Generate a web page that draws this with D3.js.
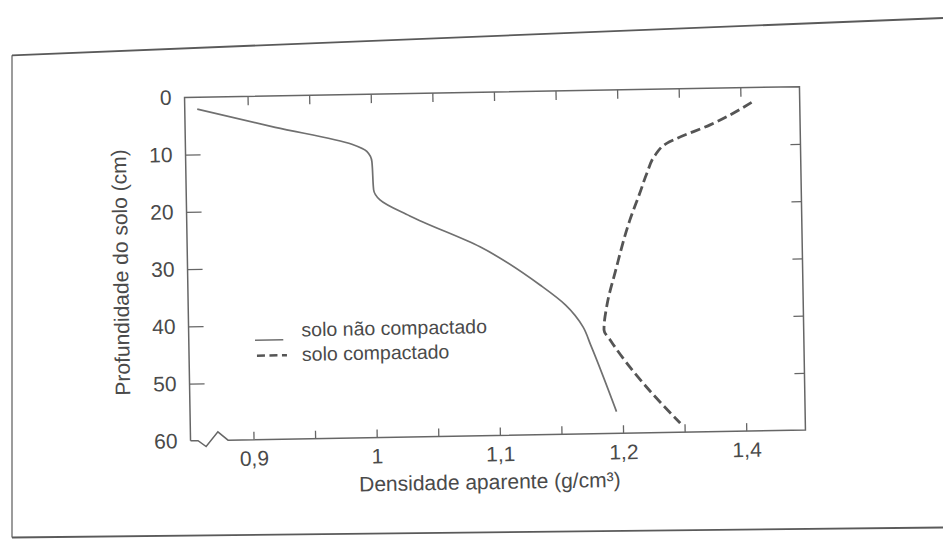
<!DOCTYPE html>
<html>
<head>
<meta charset="utf-8">
<script src="https://cdn.jsdelivr.net/npm/d3@7"></script>
<style>
  html, body { margin: 0; padding: 0; background: #ffffff; }
  svg { display: block; }
</style>
</head>
<body>
<script>
// ---------- data ----------
const densityTicks = [0.9, 0.95, 1.0, 1.05, 1.1, 1.15, 1.2, 1.3, 1.4];
const densityTickLabels = ["0,9", "", "1", "", "1,1", "", "1,2", "", "1,4"];
const densityKnots = [0.9, 1.0, 1.1, 1.2, 1.4];
const depthTicks = [0, 10, 20, 30, 40, 50, 60];

const seriesNames = ["solo não compactado", "solo compactado"];

const naoCompactadoDensidade = [0.859, 0.922, 0.984, 0.996, 1.000, 1.001, 1.006, 1.030, 1.0865, 1.135, 1.155, 1.169, 1.175, 1.195];
const naoCompactadoProfundidade = [2.1, 5.5, 8.7, 10.0, 11.8, 16.7, 18.5, 21.4, 27.0, 33.9, 37.4, 41.3, 44.5, 56.2];

const compactadoDensidade = [1.418, 1.35, 1.296, 1.279, 1.26, 1.246, 1.234, 1.217, 1.196, 1.189, 1.186, 1.191, 1.234, 1.293];
const compactadoProfundidade = [2.6, 6.4, 8.65, 9.5, 11.5, 14.65, 18.1, 22.8, 31.75, 37.3, 41.9, 43.7, 51.3, 58.4];

const xTitle = "Densidade aparente (g/cm³)";
const yTitle = "Profundidade do solo (cm)";

// ---------- layout ----------
const W = 943, H = 541;
const L = 187.5, R = 802.5, T = 92, B = 435.5;
const FONT = "'Liberation Sans', Arial, Helvetica, sans-serif";
const TEXT = "#4a4a4a";
const AXIS = "#666666";

const svg = d3.select("body").append("svg").attr("width", W).attr("height", H);
svg.append("rect").attr("width", W).attr("height", H).attr("fill", "#ffffff");

// outer page frame (scanned box)
const frame = svg.append("g").attr("stroke", "#5a5a5a").attr("fill", "none");
frame.append("line").attr("x1", 12).attr("y1", 55.3).attr("x2", 943).attr("y2", 18).attr("stroke-width", 1.8);
frame.append("line").attr("x1", 12).attr("y1", 55.3).attr("x2", 12).attr("y2", 537.5).attr("stroke-width", 1.2);
frame.append("line").attr("x1", 12).attr("y1", 537.5).attr("x2", 943).attr("y2", 527.5).attr("stroke-width", 1.8);

const g = svg.append("g").attr("transform", "rotate(-1 495 264)");

// scales (piecewise linear to follow the printed tick positions)
const x0 = 250.5, step = 123.2;
const x = d3.scaleLinear()
  .domain(densityKnots)
  .range([x0, x0 + step, x0 + 2 * step, x0 + 3 * step, x0 + 4 * step]);
const y = d3.scaleLinear().domain([0, 60]).range([T, B]);

// axes
function styleAxis(sel) {
  sel.attr("font-family", FONT).attr("font-size", 21);
  sel.select(".domain").remove();
  sel.selectAll(".tick line").attr("stroke", AXIS).attr("stroke-width", 1.3);
  sel.selectAll(".tick text").attr("fill", TEXT);
}

g.append("g").attr("transform", `translate(0,${B})`)
  .call(d3.axisBottom(x).tickValues(densityTicks).tickSize(-8).tickPadding(11)
    .tickFormat((d, i) => densityTickLabels[i]))
  .call(styleAxis);

g.append("g").attr("transform", `translate(0,${T})`)
  .call(d3.axisTop(x).tickValues(densityTicks).tickSize(-9).tickFormat(""))
  .call(styleAxis);

const yAxisG = g.append("g").attr("transform", `translate(${L},0)`)
  .call(d3.axisLeft(y).tickValues(depthTicks).tickSize(-15).tickPadding(13))
  .call(styleAxis);
yAxisG.selectAll(".tick line").filter(d => d === 0 || d === 60).remove();

g.append("g").attr("transform", `translate(${R},0)`)
  .call(d3.axisRight(y).tickValues(depthTicks.slice(1, -1)).tickSize(-10).tickFormat(""))
  .call(styleAxis);

// plot frame with axis break on the bottom-left
g.append("path")
  .attr("d", `M${L},${B} V${T} H${R} V${B} H225 L215,${B - 8.5} L203,${B + 6} L195,${B} H${L}`)
  .attr("fill", "none").attr("stroke", AXIS).attr("stroke-width", 1.5)
  .attr("stroke-linejoin", "miter");

// curves
const line = d3.line().x(d => x(d[0])).y(d => y(d[1])).curve(d3.curveMonotoneY);

g.append("path")
  .datum(d3.zip(naoCompactadoDensidade, naoCompactadoProfundidade))
  .attr("d", line)
  .attr("fill", "none").attr("stroke", "#707070").attr("stroke-width", 1.7);

g.append("path")
  .datum(d3.zip(compactadoDensidade, compactadoProfundidade))
  .attr("d", line)
  .attr("fill", "none").attr("stroke", "#555555").attr("stroke-width", 2.8)
  .attr("stroke-dasharray", "10,4.5");

// legend
const leg = g.append("g").attr("font-family", FONT).attr("font-size", 19.5).attr("fill", TEXT);
leg.append("line").attr("x1", 253.7).attr("x2", 282).attr("y1", 336).attr("y2", 336)
  .attr("stroke", "#707070").attr("stroke-width", 1.5);
leg.append("text").attr("x", 300.4).attr("y", 333).text(seriesNames[0]);
leg.append("line").attr("x1", 255.4).attr("x2", 285.4).attr("y1", 351.5).attr("y2", 351.5)
  .attr("stroke", "#555555").attr("stroke-width", 2.5).attr("stroke-dasharray", "8,4.5");
leg.append("text").attr("x", 300.4).attr("y", 357.5).text(seriesNames[1]);

// axis titles
g.append("text")
  .attr("x", 486).attr("y", 489)
  .attr("text-anchor", "middle")
  .attr("font-family", FONT).attr("font-size", 21).attr("fill", TEXT)
  .text(xTitle);

g.append("text")
  .attr("transform", "translate(128,266) rotate(-90)")
  .attr("text-anchor", "middle")
  .attr("font-family", FONT).attr("font-size", 21).attr("fill", TEXT)
  .text(yTitle);
</script>
</body>
</html>
